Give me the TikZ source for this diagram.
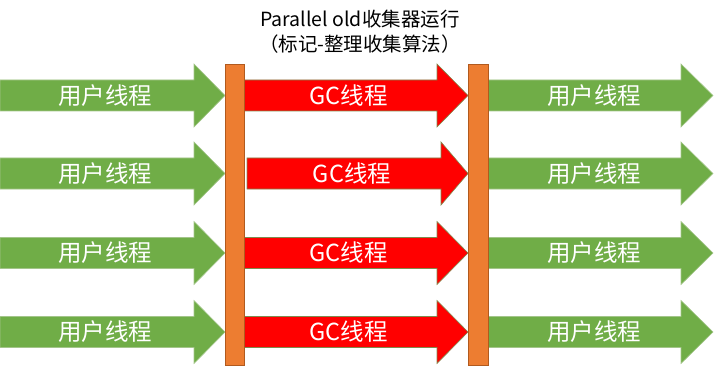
\documentclass[tikz,border=0pt]{standalone}
\usepackage{fontspec}
\usepackage{tikz}
\usetikzlibrary{positioning}
\newfontfamily\cjk{Noto Sans CJK SC}
\definecolor{userg}{HTML}{70AD47}
\definecolor{userb}{HTML}{A3C58A}
\definecolor{gcred}{HTML}{FF0000}
\definecolor{gcb}{HTML}{7F8A4E}
\definecolor{stw}{HTML}{ED7D31}
\definecolor{stwb}{HTML}{B15A1E}

% thread arrow: fill, border, start, head base, tip, centre y
\newcommand{\threadarrow}[6]{%
  \fill[#1, draw=#2, line width=0.6pt]
    (#3,#6-15.5) -- (#4,#6-15.5) -- (#4,#6-31.5) -- (#5,#6)
    -- (#4,#6+31.5) -- (#4,#6+15.5) -- (#3,#6+15.5) -- cycle;}

\tikzset{
  lbl/.style={text=white, font=\cjk\fontsize{23.5}{25}\selectfont, inner sep=0pt},
  title/.style={font=\cjk\fontsize{19.5}{25}\selectfont, align=center, inner sep=0pt},
  stwbar/.style={fill=stw, draw=stwb, line width=0.8pt}
}

\begin{document}
\begin{tikzpicture}[x=1pt, y=-1pt]
  \useasboundingbox (0,0) rectangle (714,366);

  \node[title] (head) at (360,32) {Parallel old收集器运行\\（标记-整理收集算法）};

  \foreach \y/\gs/\gb [count=\i] in {95.5/244/437, 173.5/247/441, 253/244/437, 332/244/437} {
    \threadarrow{userg}{userb}{0}{194}{225}{\y}
    \threadarrow{gcred}{gcb}{\gs}{\gb}{468}{\y}
    \threadarrow{userg}{userb}{488}{681}{713}{\y}
    \node[lbl] (ua\i) at (105,\y) {用户线程};
    \node[lbl] (gc\i) at ({(\gs+\gb)/2+8},\y) {GC线程};
    \node[lbl] (ub\i) at (594,\y) {用户线程};
  }

  % stop-the-world bars
  \draw[stwbar] (225,64) rectangle (244,365);
  \draw[stwbar] (468,64) rectangle (488,365);
\end{tikzpicture}
\end{document}
